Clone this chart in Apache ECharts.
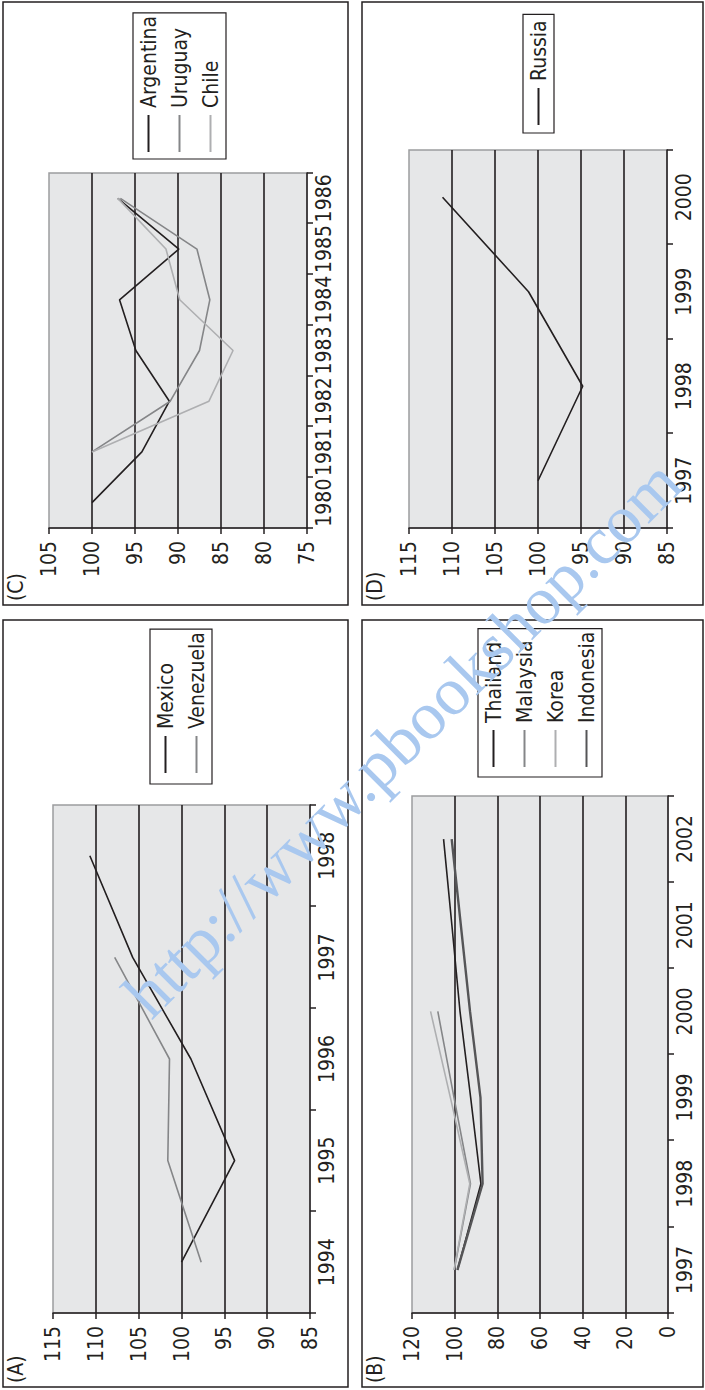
<!DOCTYPE html>
<html><head><meta charset="utf-8">
<script src="https://cdn.jsdelivr.net/npm/echarts@6/dist/echarts.min.js"></script>
<style>
html,body{margin:0;padding:0;background:#fff;overflow:hidden;width:705px;height:1390px;}
#chart{position:absolute;left:0;top:0;width:1390px;height:705px;transform-origin:0 0;transform:translateY(1390px) rotate(-90deg);}
</style></head><body><div id="chart"></div>
<script>
// ---- data ----
const yearsA = ['1994', '1995', '1996', '1997', '1998'];
const mexico = [100, 93.8, 98.9, 105.7, 110.7];
const venezuela = [97.7, 101.6, 101.4, 107.8, null];

const yearsB = ['1997', '1998', '1999', '2000', '2001', '2002'];
const thailand = [98.7, 87.7, 92.5, 97.5, 101.3, 105.2];
const malaysia = [100.2, 92.6, 100.3, 107.9, null, null];
const korea = [100.3, 92.9, 102.0, 111.3, null, null];
const indonesia = [98.7, 86.9, 87.9, 92.8, 97.1, 101.4];

const yearsC = ['1980', '1981', '1982', '1983', '1984', '1985', '1986'];
const argentina = [100, 94.2, 91.0, 94.9, 96.8, 89.9, 97.0];
const uruguay = [null, 100, 90.9, 87.5, 86.3, 87.8, 96.7];
const chile = [null, 100, 86.4, 83.6, 89.8, 91.4, 97.0];

const yearsD = ['1997', '1998', '1999', '2000'];
const russia = [100, 94.8, 101.1, 111.1];

const panelLabels = ['(A)', '(B)', '(C)', '(D)'];
const watermark = 'http://www.pbookshop.com';

// ---- styling / layout ----
const FONT = '"Liberation Sans Narrow","Arial Narrow","DejaVu Sans Condensed",sans-serif';
const FS = 21;
const INK = '#231f20';
const BLACK = '#231f20', GREY = '#858688', LIGHT = '#aeafb1', DARK = '#555557';

const panels = [
  { box: [3, 3, 767, 345], grid: { left: 77, top: 53, width: 508, height: 257 }, cats: yearsA, min: 85, max: 115, step: 5,
    series: [['Mexico', mexico, BLACK, 1.6], ['Venezuela', venezuela, GREY, 1.6]],
    legend: { left: 606, top: 150, padding: [5, 3, 5, 11] } },
  { box: [3, 362, 767, 341], grid: { left: 77, top: 412, width: 517, height: 256 }, cats: yearsB, min: 0, max: 120, step: 20,
    series: [['Thailand', thailand, BLACK, 1.6], ['Malaysia', malaysia, GREY, 1.6], ['Korea', korea, LIGHT, 1.6], ['Indonesia', indonesia, DARK, 2.4]],
    legend: { left: 613, top: 478, padding: [5, 3, 5, 10] } },
  { box: [785, 3, 603, 345], grid: { left: 862, top: 49, width: 355, height: 258 }, cats: yearsC, min: 75, max: 105, step: 5,
    series: [['Argentina', argentina, BLACK, 1.6], ['Uruguay', uruguay, GREY, 1.6], ['Chile', chile, LIGHT, 1.6]],
    legend: { left: 1231, top: 133, padding: [5, 3, 5, 7] } },
  { box: [785, 362, 603, 341], grid: { left: 862, top: 409, width: 378, height: 258 }, cats: yearsD, min: 85, max: 115, step: 5,
    series: [['Russia', russia, BLACK, 1.6]],
    legend: { left: 1257, top: 523, padding: [5, 6, 5, 8] } }
];

const option = { animation: false, backgroundColor: '#fff', grid: [], xAxis: [], yAxis: [], series: [], legend: [], graphic: [] };

panels.forEach((p, i) => {
  option.grid.push(Object.assign({ show: true, backgroundColor: '#e6e7e8', borderColor: '#9c9d9f', borderWidth: 1.5, containLabel: false }, p.grid));
  option.xAxis.push({
    type: 'category', gridIndex: i, data: p.cats, boundaryGap: true,
    axisLine: { show: true, lineStyle: { color: INK, width: 1.5 } },
    axisTick: { show: true, length: 6, lineStyle: { color: INK, width: 1.5 } },
    axisLabel: { interval: 0, margin: 6, color: INK, fontSize: FS, fontFamily: FONT },
    splitLine: { show: false }
  });
  option.yAxis.push({
    type: 'value', gridIndex: i, min: p.min, max: p.max, interval: p.step,
    axisLine: { show: true, lineStyle: { color: INK, width: 1.5 } },
    axisTick: { show: true, length: 6, lineStyle: { color: INK, width: 1.5 } },
    axisLabel: { margin: 13, color: INK, fontSize: FS, fontFamily: FONT },
    splitLine: { show: true, showMaxLine: false, showMinLine: false, lineStyle: { color: BLACK, width: 1.6 } }
  });
  p.series.forEach(s => {
    option.series.push({
      name: s[0], type: 'line', xAxisIndex: i, yAxisIndex: i, data: s[1],
      symbol: 'none', showSymbol: false, connectNulls: false, silent: true,
      color: s[2], itemStyle: { color: s[2] }, lineStyle: { color: s[2], width: s[3] }
    });
  });
  option.legend.push({
    orient: 'vertical', left: p.legend.left, top: p.legend.top, padding: p.legend.padding,
    data: p.series.map(s => s[0]), icon: 'rect', itemWidth: 37, itemHeight: 2, itemGap: 10,
    borderColor: INK, borderWidth: 1.2, backgroundColor: '#fff', selectedMode: false,
    textStyle: { color: INK, fontSize: FS, fontFamily: FONT, padding: [0, 0, 0, 2] }
  });
  option.graphic.push({
    type: 'rect', shape: { x: p.box[0], y: p.box[1], width: p.box[2], height: p.box[3] },
    style: { fill: 'none', stroke: INK, lineWidth: 1.5 }, silent: true, z: 50
  });
  option.graphic.push({
    type: 'text', x: p.box[0] + 4, y: p.box[1] + 2,
    style: { text: panelLabels[i], fontSize: FS, fontFamily: FONT, fill: INK }, silent: true, z: 50
  });
});

option.graphic.push({
  type: 'text', x: 652, y: 402, rotation: -Math.PI / 4,
  style: { text: watermark, fontSize: 68, fontFamily: '"Liberation Serif","DejaVu Serif",serif', fill: '#a9c8ef',
           align: 'center', verticalAlign: 'middle', textAlign: 'center', textVerticalAlign: 'middle' },
  silent: true, z: 200
});

const chart = echarts.init(document.getElementById('chart'), null, { renderer: 'svg', width: 1390, height: 705 });
chart.setOption(option);
</script></body></html>
